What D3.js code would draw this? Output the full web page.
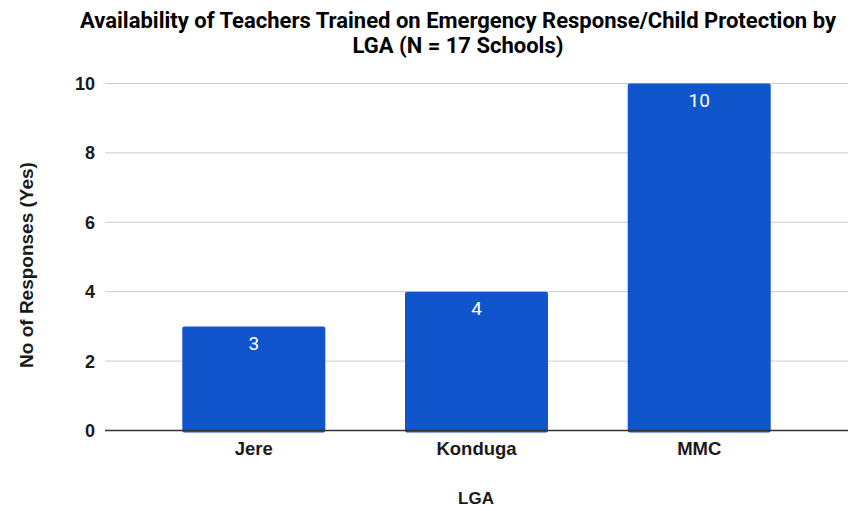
<!DOCTYPE html>
<html><head><meta charset="utf-8">
<script src="https://cdn.jsdelivr.net/npm/d3@7"></script>
<style>body{margin:0;background:#fff}svg{display:block}</style>
</head><body>
<svg id="c" width="857" height="511"></svg>
<script>
const categories = ["Jere", "Konduga", "MMC"];
const values = [3, 4, 10];
const yTicks = [0, 2, 4, 6, 8, 10];
const titleLines = ["Availability of Teachers Trained on Emergency Response/Child Protection by", "LGA (N = 17 Schools)"];
const xTitle = "LGA";
const yTitle = "No of Responses (Yes)";

(function () {
const svg = d3.select("#c");
const pLeft = 105, pRight = 848, pTop = 83.5, pBottom = 430.5;
const x = d3.scaleBand().domain(categories).range([pLeft, pRight]).paddingInner(0.358).paddingOuter(0.347);
const y = d3.scaleLinear().domain([0, 10]).range([pBottom, pTop]);

// grid
svg.append("g").selectAll("line").data(yTicks.filter(d => d > 0)).join("line")
  .attr("x1", pLeft).attr("x2", pRight)
  .attr("y1", d => y(d)).attr("y2", d => y(d))
  .attr("stroke", "#cccccc").attr("stroke-width", 1);

// y tick labels
svg.append("g").selectAll("text").data(yTicks).join("text")
  .attr("x", 95).attr("y", d => y(d)).attr("dy", "0.36em")
  .attr("text-anchor", "end")
  .attr("font-family", "Liberation Sans, Arial, sans-serif").attr("font-weight", "bold")
  .attr("font-size", 18).attr("fill", "#1a1a1a")
  .text(d => d);

// bars
svg.append("g").selectAll("rect").data(values).join("rect")
  .attr("x", (d, i) => x(categories[i]))
  .attr("y", d => y(d))
  .attr("width", x.bandwidth())
  .attr("height", d => pBottom - y(d) + 2)
  .attr("rx", 2).attr("fill", "#1155cc");

// baseline
svg.append("line").attr("x1", pLeft).attr("x2", pRight).attr("y1", pBottom).attr("y2", pBottom)
  .attr("stroke", "#333333").attr("stroke-width", 1.5);

// value labels
svg.append("g").selectAll("text").data(values).join("text")
  .attr("x", (d, i) => x(categories[i]) + x.bandwidth() / 2)
  .attr("y", d => y(d) + 23.5)
  .attr("text-anchor", "middle")
  .attr("font-family", "Roboto, sans-serif").attr("font-size", 19).attr("fill", "#ffffff")
  .text(d => d);

// x tick labels
svg.append("g").selectAll("text").data(categories).join("text")
  .attr("x", d => x(d) + x.bandwidth() / 2).attr("y", 455)
  .attr("text-anchor", "middle")
  .attr("font-family", "Liberation Sans, Arial, sans-serif").attr("font-weight", "bold")
  .attr("font-size", 18.5).attr("fill", "#1a1a1a")
  .text(d => d);

// x title
svg.append("text").attr("x", 476).attr("y", 504).attr("text-anchor", "middle")
  .attr("font-family", "Liberation Sans, Arial, sans-serif").attr("font-weight", "bold")
  .attr("font-size", 17).attr("fill", "#1a1a1a").text(xTitle);

// y title
svg.append("text").attr("transform", "translate(33,265) rotate(-90)").attr("text-anchor", "middle")
  .attr("font-family", "Liberation Sans, Arial, sans-serif").attr("font-weight", "bold")
  .attr("font-size", 19).attr("fill", "#1a1a1a").text(yTitle);

// title
svg.append("g").selectAll("text").data(titleLines).join("text")
  .attr("x", 458).attr("y", (d, i) => 28 + i * 25)
  .attr("text-anchor", "middle")
  .attr("font-family", "Roboto, sans-serif").attr("font-weight", "bold")
  .attr("font-size", 22).attr("fill", "#000")
  .text(d => d);
})();
</script>
</body></html>
